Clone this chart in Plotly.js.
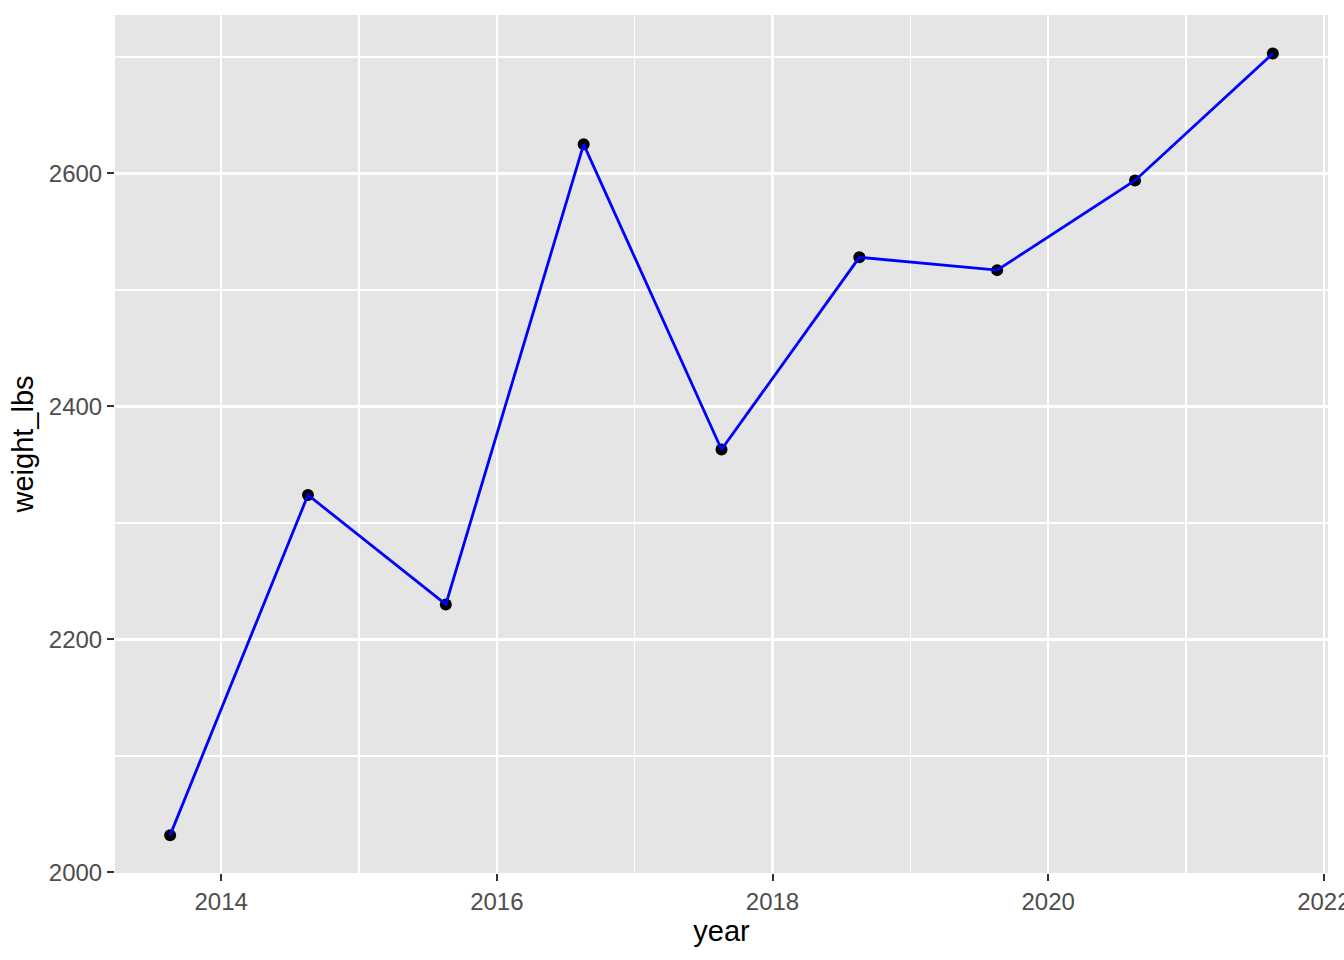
<!DOCTYPE html>
<html>
<head>
<meta charset="utf-8">
<script src="https://cdn.plot.ly/plotly-3.0.1.min.js"></script>
<style>
  html, body { margin: 0; padding: 0; background: #ffffff; }
  #chart { width: 1344px; height: 960px; }
</style>
</head>
<body>
<div id="chart"></div>
<script>
// values
const years = [2013.63, 2014.63, 2015.63, 2016.63, 2017.63, 2018.63, 2019.63, 2020.63, 2021.63];
const weightLbs = [2032, 2324, 2230, 2625, 2363, 2528, 2517, 2594, 2703];

document.addEventListener("DOMContentLoaded", function () {

    let chart = document.getElementById("chart");

    // points first, line on top (same order as the reference)
    let points = {
        x: years,
        y: weightLbs,
        mode: 'markers',
        type: 'scatter',
        marker: { color: '#000000', size: 12 },
        hoverinfo: 'x+y'
    };

    let line = {
        x: years,
        y: weightLbs,
        mode: 'lines',
        type: 'scatter',
        line: { color: '#0000ff', width: 2.8 },
        hoverinfo: 'skip'
    };

    Plotly.newPlot(chart, [points, line], {
        width: 1344,
        height: 960,
        margin: { l: 115, r: 16, t: 15, b: 87 },
        paper_bgcolor: '#ffffff',
        plot_bgcolor: '#e5e5e5',
        showlegend: false,
        font: { family: 'Liberation Sans, Arial, sans-serif', color: '#000000' },
        xaxis: {
            range: [2013.23, 2022.03],
            tick0: 2014,
            dtick: 2,
            ticks: 'outside',
            ticklen: 7,
            tickwidth: 2,
            tickcolor: '#333333',
            tickfont: { size: 24, color: '#4d4d4d' },
            ticklabeloverflow: 'allow',
            showgrid: true,
            gridcolor: '#ffffff',
            gridwidth: 2.4,
            minor: { dtick: 1, tick0: 2013, showgrid: true, gridcolor: '#ffffff', gridwidth: 1.2 },
            zeroline: false,
            showline: false,
            title: { text: 'year', font: { size: 29, color: '#000000' }, standoff: 6 }
        },
        yaxis: {
            range: [1999.5, 2736],
            tick0: 2000,
            dtick: 200,
            ticks: 'outside',
            ticklen: 7,
            tickwidth: 2,
            tickcolor: '#333333',
            tickfont: { size: 24, color: '#4d4d4d' },
            showgrid: true,
            gridcolor: '#ffffff',
            gridwidth: 2.4,
            minor: { dtick: 100, tick0: 2000, showgrid: true, gridcolor: '#ffffff', gridwidth: 1.2 },
            zeroline: false,
            showline: false,
            title: { text: 'weight_lbs', font: { size: 29, color: '#000000' }, standoff: 6 }
        }
    }, { displayModeBar: false, staticPlot: true });
});
</script>
</body>
</html>
